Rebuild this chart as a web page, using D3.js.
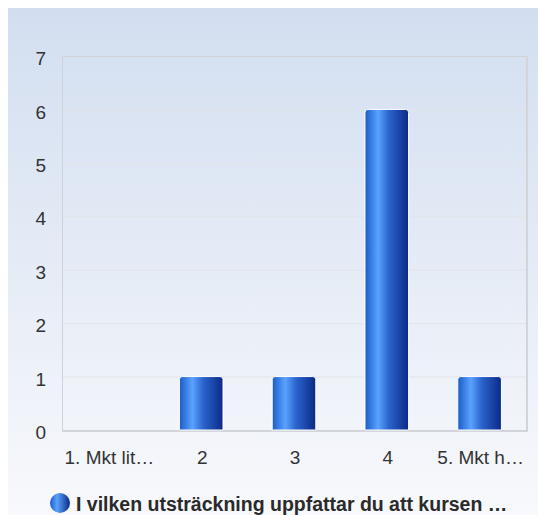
<!DOCTYPE html>
<html><head><meta charset="utf-8">
<script src="https://cdn.jsdelivr.net/npm/d3@7"></script>
<style>html,body{margin:0;padding:0;background:#fff;}svg{display:block;font-family:"Liberation Sans",Arial,sans-serif;}</style>
</head><body>
<script>
const categories = ["1. Mkt lit…", "2", "3", "4", "5. Mkt h…"];
const values = [0, 1, 1, 6, 1];
const yTicks = [0, 1, 2, 3, 4, 5, 6, 7];
const seriesName = "I vilken utsträckning uppfattar du att kursen …";

const W = 538, H = 515;
const svg = d3.select("body").append("svg").attr("width", W).attr("height", H);
const defs = svg.append("defs");
const bg = defs.append("linearGradient").attr("id","bg").attr("x1",0).attr("y1",0).attr("x2",0).attr("y2",1);
bg.append("stop").attr("offset","0%").attr("stop-color","#d2def0");
bg.append("stop").attr("offset","100%").attr("stop-color","#f8f9fc");
const bar = defs.append("linearGradient").attr("id","bar").attr("x1",0).attr("y1",0).attr("x2",1).attr("y2",0);
bar.append("stop").attr("offset","0%").attr("stop-color","#1a5cc8");
bar.append("stop").attr("offset","30%").attr("stop-color","#5aa2ff");
bar.append("stop").attr("offset","55%").attr("stop-color","#2a63cc");
bar.append("stop").attr("offset","100%").attr("stop-color","#0a2a86");
const leg = defs.append("linearGradient").attr("id","leg").attr("x1",0).attr("y1",0).attr("x2",1).attr("y2",0);
leg.append("stop").attr("offset","0%").attr("stop-color","#1a5cc8");
leg.append("stop").attr("offset","35%").attr("stop-color","#5aa2ff");
leg.append("stop").attr("offset","100%").attr("stop-color","#0a2a86");

svg.append("rect").attr("x",8).attr("y",8).attr("width",530).attr("height",507).attr("fill","url(#bg)");

const m = {l:62, r:526, t:56, b:430};
const x = d3.scaleBand().domain(categories).range([m.l, m.r]).paddingInner(0.53).paddingOuter(0.265);
const y = d3.scaleLinear().domain([0,7]).range([m.b, m.t]);

// gridlines
svg.append("g").selectAll("line").data(yTicks.slice(1,-1)).join("line")
  .attr("x1",m.l).attr("x2",m.r).attr("y1",d=>y(d)+0.5).attr("y2",d=>y(d)+0.5)
  .attr("stroke","#e2e4e8").attr("stroke-width",1);

// plot border
svg.append("rect").attr("x",m.l+0.5).attr("y",m.t+0.5).attr("width",m.r-m.l).attr("height",m.b-m.t)
  .attr("fill","none").attr("stroke","#cfd2d6").attr("stroke-width",1);
svg.append("line").attr("x1",m.l).attr("x2",m.r+1).attr("y1",m.b+1.5).attr("y2",m.b+1.5).attr("stroke","#d4d6da").attr("stroke-width",1);
svg.append("line").attr("x1",m.r+1.5).attr("x2",m.r+1.5).attr("y1",m.t).attr("y2",m.b+2).attr("stroke","#d4d6da").attr("stroke-width",1);

// bars
const r = 3;
svg.append("g").selectAll("path").data(values.map((v,i)=>({v, c:categories[i]}))).join("path")
  .filter(d=>d.v>0)
  .attr("d", d=>{
    const x0 = x(d.c), x1 = x0 + x.bandwidth(), y0 = y(d.v), y1 = y(0);
    return `M${x0},${y1}V${y0+r}Q${x0},${y0} ${x0+r},${y0}H${x1-r}Q${x1},${y0} ${x1},${y0+r}V${y1}Z`;
  })
  .attr("fill","url(#bar)").attr("stroke","#fff").attr("stroke-width",1);

// y axis labels
const yAxis = d3.axisLeft(y).tickValues(yTicks).tickSize(0).tickPadding(0).tickFormat(d3.format("d"));
const ya = svg.append("g").attr("transform",`translate(${46},2)`).call(yAxis);
ya.select(".domain").remove();
ya.selectAll("text").attr("font-size",19).attr("fill","#333").attr("font-family","Liberation Sans, Arial, sans-serif").attr("dy","0.35em");

// x axis labels
const xAxis = d3.axisBottom(x).tickSize(0).tickPadding(0);
const xa = svg.append("g").attr("transform",`translate(1,${450})`).call(xAxis);
xa.select(".domain").remove();
xa.selectAll("text").attr("font-size",19).attr("fill","#333").attr("font-family","Liberation Sans, Arial, sans-serif");

// legend
svg.append("circle").attr("cx",60).attr("cy",503).attr("r",10).attr("fill","url(#leg)");
svg.append("text").attr("x",76).attr("y",511).attr("font-size",19.5).attr("font-weight","bold").attr("fill","#2a2a2a").text(seriesName);
</script>
</body></html>
